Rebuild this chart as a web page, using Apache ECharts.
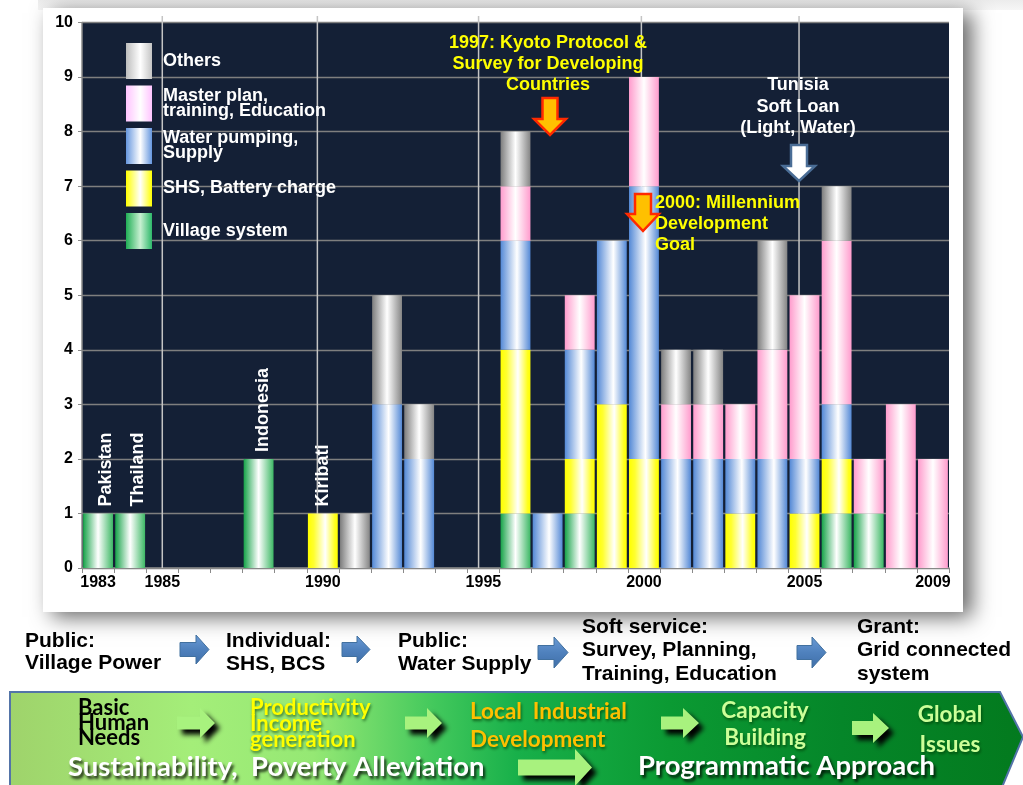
<!DOCTYPE html>
<html><head><meta charset="utf-8">
<script src="https://cdn.jsdelivr.net/npm/echarts@6/dist/echarts.min.js"></script>
<style>html,body{margin:0;padding:0;background:#fff;}#c{width:1023px;height:785px;}</style>
</head><body><div id="c"></div>
<script>
// ---------- data ----------
const years = ['1983','1984','1985','1986','1987','1988','1989','1990','1991','1992','1993','1994','1995','1996','1997','1998','1999','2000','2001','2002','2003','2004','2005','2006','2007','2008','2009'];
const shownYears = ['1983','1985','1990','1995','2000','2005','2009'];
const village = [1,1,0,0,0,2,0,0,0,0,0,0,0,1,0,1,0,0,0,0,0,0,0,1,1,0,0];
const shs     = [0,0,0,0,0,0,0,1,0,0,0,0,0,3,0,1,3,2,0,0,1,0,1,1,0,0,0];
const water   = [0,0,0,0,0,0,0,0,0,3,2,0,0,2,1,2,3,5,2,2,1,2,1,1,0,0,0];
const master  = [0,0,0,0,0,0,0,0,0,0,0,0,0,1,0,1,0,2,1,1,1,2,3,3,1,3,2];
const others  = [0,0,0,0,0,0,0,0,1,2,1,0,0,1,0,0,0,0,1,1,0,2,0,1,0,0,0];
const countries = ['Pakistan','Thailand','','','','Indonesia','','Kiribati','','','','','','','','','','','','','','','','','','',''];
const seriesNames = ['Village system','SHS, Battery charge','Water pumping,\nSupply','Master plan,\ntraining, Education','Others'];
const guideYears = [2.5, 7.33, 12.35, 17.42, 22.33];

// ---------- styles ----------
function grad(stops){return new echarts.graphic.LinearGradient(0,0,1,0,stops.map(s=>({offset:s[0],color:s[1]})));}
const fills = [
  grad([[0,'#17a349'],[0.5,'#ffffff'],[1,'#3db865']]),
  grad([[0,'#ffff00'],[0.2,'#ffff30'],[0.58,'#ffffff'],[0.9,'#ffff20'],[1,'#ffff00']]),
  grad([[0,'#5489d6'],[0.55,'#ffffff'],[1,'#5489d6']]),
  grad([[0,'#ff9ccd'],[0.5,'#ffffff'],[1,'#ff9ccd']]),
  grad([[0,'#7d7d7d'],[0.5,'#ffffff'],[1,'#858585']])
];
const legendFills = [
  grad([[0,'#1fae55'],[0.55,'#c8f0d2'],[1,'#2db86a']]),
  grad([[0,'#ffff00'],[0.55,'#ffffff'],[1,'#ffff00']]),
  grad([[0,'#6596de'],[0.55,'#ffffff'],[1,'#6596de']]),
  grad([[0,'#ffc4ff'],[0.55,'#ffffff'],[1,'#ffc4ff']]),
  grad([[0,'#bdbdbd'],[0.55,'#ffffff'],[1,'#c4c4c4']])
];
const values = [village, shs, water, master, others];
const totals = years.map((_,i)=>values.reduce((s,a)=>s+a[i],0));
const labelShift = {Pakistan:8, Thailand:8, Indonesia:4, Kiribati:0};

const F = '"Liberation Sans", Arial, sans-serif';
const barSeries = values.map((arr,k)=>({
  name: seriesNames[k], type:'bar', stack:'a', data: arr,
  barCategoryGap:'7%', z:3, itemStyle:{color: fills[k]}, silent:true
}));

const countryData = [];
countries.forEach((c,i)=>{ if(c) countryData.push({value:[i, totals[i]], name:c,
  label:{offset:[0,labelShift[c]]}}); });

function arrowR(x0,x1,yT,yB,hx,sh){const yc=(yT+yB)/2;return [[x0,yc-sh],[hx,yc-sh],[hx,yT],[x1,yc],[hx,yB],[hx,yc+sh],[x0,yc+sh]];}
function arrowD(xL,xR,yT,yB,hy,sh){const xc=(xL+xR)/2;return [[xc-sh,yT],[xc+sh,yT],[xc+sh,hy],[xR,hy],[xc,yB],[xL,hy],[xc-sh,hy]];}

const blueArrowFill = new echarts.graphic.LinearGradient(0,0,0,1,[{offset:0,color:'#6b9bd6'},{offset:0.5,color:'#4f81bd'},{offset:1,color:'#3f6ea8'}]);
const blueArrows = [[180,209,635,664,196],[342,370,636,663,357],[538,568,637,668,554],[797,826,637,668,812]].map(a=>({
  type:'polygon', z:100, shape:{points:arrowR(a[0],a[1],a[2],a[3],a[4],7)},
  style:{fill:blueArrowFill, stroke:'#41709f', lineWidth:1}}));
const greenArrows = [[177,215,708,738,200,6.5],[405,442,708,738,427,6.5],[661,699,708,738,683,6.5],[852,889,713,743,873,7],[518,592,749,786,575,8]].map(a=>({
  type:'polygon', z:100, shape:{points:arrowR(a[0],a[1],a[2],a[3],a[4],a[5])},
  style:{fill:'#a8f27e', shadowBlur:5, shadowColor:'rgba(0,0,0,1)', shadowOffsetX:5, shadowOffsetY:5}}));

function txt(text,x,y,o){return {type:'text', z:100, silent:true, style:Object.assign({text:text,x:x,y:y,fill:'#000',
  font:'bold 21px '+F, align:'left', verticalAlign:'middle'},o||{})};}
const CF = 'Lato, "Open Sans", sans-serif';
const sh = {textShadowColor:'rgba(0,0,0,0.8)', textShadowBlur:3, textShadowOffsetX:2, textShadowOffsetY:3};
const gs = {textShadowColor:'rgba(0,50,0,0.65)', textShadowBlur:3, textShadowOffsetX:1, textShadowOffsetY:2};

const graphics = [
  {type:'rect', z:-100, silent:true, shape:{x:38,y:0,width:985,height:10}, style:{fill:new echarts.graphic.LinearGradient(0,0,0,1,[{offset:0,color:'#ececec'},{offset:1,color:'#f6f6f6'}])}},
  {type:'rect', z:-90, silent:true, shape:{x:43,y:8,width:920,height:604}, style:{fill:'#ffffff', shadowBlur:20, shadowColor:'rgba(0,0,0,0.6)', shadowOffsetX:9, shadowOffsetY:5}},
  // annotations
  txt('1997: Kyoto Protocol &\nSurvey for Developing\nCountries',548,64,{fill:'#ffff00',font:'bold 18px '+F,align:'center',lineHeight:21}),
  {type:'polygon', z:100, shape:{points:arrowD(534,566,98,135,119,7.5)}, style:{fill:'#ffc000',stroke:'#ff2a00',lineWidth:2.5}},
  txt('2000: Millennium\nDevelopment\nGoal',655,224,{fill:'#ffff00',font:'bold 18px '+F,lineHeight:21}),
  {type:'polygon', z:100, shape:{points:arrowD(627,659,194,231,214,8)}, style:{fill:'#ffc000',stroke:'#ff2a00',lineWidth:2.5}},
  txt('Tunisia\nSoft Loan\n(Light, Water)',798,107,{fill:'#ffffff',font:'bold 18px '+F,align:'center',lineHeight:21.5}),
  {type:'polygon', z:100, shape:{points:arrowD(783,815,145,181,166,8)}, style:{fill:'#ffffff',stroke:'#4a6d96',lineWidth:2.5}},
  // lower text row
  txt('Public:\nVillage Power',25,652,{lineHeight:22}),
  txt('Individual:\nSHS, BCS',226,653,{lineHeight:23}),
  txt('Public:\nWater Supply',398,653,{lineHeight:23}),
  txt('Soft service:\nSurvey, Planning,\nTraining, Education',582,650.5,{lineHeight:23.5}),
  txt('Grant:\nGrid connected\nsystem',857,650.5,{lineHeight:23.5}),
  ...blueArrows,
  // banner
  {type:'polygon', z:50, silent:true, shape:{points:[[10,692],[1000,692],[1023,737],[1000,792],[10,792]]},
   style:{fill:new echarts.graphic.LinearGradient(0,0,1,0,[
     {offset:0,color:'#9fd36b'},{offset:0.18,color:'#a4ee79'},{offset:0.3,color:'#95e874'},{offset:0.42,color:'#42c85c'},
     {offset:0.5,color:'#18b04a'},{offset:0.65,color:'#0b9a33'},{offset:0.82,color:'#058629'},{offset:1,color:'#037a1e'}]),
     stroke:'#5374a8', lineWidth:2}},
  txt('Basic\nHuman\nNeeds',78,723,{font:'bold 22px '+CF,lineHeight:15,fill:'#000'}),
  txt('Productivity\nIncome\ngeneration',250,724,Object.assign({font:'bold 22px '+CF,lineHeight:16,fill:'#ffff00'},gs)),
  txt('Local  Industrial\nDevelopment',470,726,Object.assign({font:'bold 22.5px '+CF,lineHeight:28,fill:'#ffc000'},gs)),
  txt('Capacity\nBuilding',765,724,Object.assign({font:'bold 22.5px '+CF,lineHeight:27,fill:'#ccff99',align:'center'},gs)),
  txt('Global\nIssues',950,730,Object.assign({font:'bold 22.5px '+CF,lineHeight:30,fill:'#ccff99',align:'center'},gs)),
  txt('Sustainability,  Poverty Alleviation',68,767,Object.assign({font:'bold 27.5px '+CF,fill:'#ffffff'},sh)),
  txt('Programmatic Approach',638,766,Object.assign({font:'bold 27.5px '+CF,fill:'#ffffff'},sh)),
  ...greenArrows
];

const chart = echarts.init(document.getElementById('c'), null, {renderer:'canvas'});
chart.setOption({
  animation:false,
  backgroundColor:'#ffffff',
  grid:{left:82, right:74, top:22.5, bottom:217, show:true, backgroundColor:'#142036', borderWidth:0},
  legend:{
    data:[4,3,2,1,0].map(k=>({name:seriesNames[k], itemStyle:{color:legendFills[k]}})),
    orient:'vertical', left:126, top:43, padding:0, itemWidth:26, itemHeight:36, itemGap:6.5, icon:'rect', selectedMode:false,
    textStyle:{color:'#ffffff', fontSize:18, fontWeight:'bold', fontFamily:F, lineHeight:15, padding:[0,0,0,6]}
  },
  xAxis:[{
    type:'category', data:years, boundaryGap:true,
    axisLine:{lineStyle:{color:'#8a8a8a', width:1.5}},
    axisTick:{show:true, interval:0, alignWithLabel:false, length:5, lineStyle:{color:'#8a8a8a'}},
    axisLabel:{interval:0, margin:7, color:'#000', fontSize:16, fontWeight:'bold', fontFamily:F,
      formatter:v=>shownYears.includes(v)?v:''},
    splitLine:{show:false}
  },{type:'value', min:0, max:27, show:false}],
  yAxis:{
    type:'value', min:0, max:10, interval:1,
    axisLine:{show:true, lineStyle:{color:'#8a8a8a', width:1.5}},
    axisTick:{show:true, length:4, lineStyle:{color:'#8a8a8a'}},
    axisLabel:{margin:9, color:'#000', fontSize:16, fontWeight:'bold', fontFamily:F},
    splitLine:{lineStyle:{color:'#7f7f7f', width:1.3}}
  },
  graphic:graphics,
  series:[
    {type:'custom', xAxisIndex:1, yAxisIndex:0, data:guideYears, z:1, silent:true, clip:false,
     encode:{x:0},
     renderItem:(params, api)=>{
       const x = api.value(0);
       const p0 = api.coord([x, 10.12]), p1 = api.coord([x, 0]);
       return {type:'line', shape:{x1:p0[0], y1:p0[1], x2:p1[0], y2:p1[1]},
         style:{stroke:'#c4c4c4', lineWidth:1.5}};
     }},
    ...barSeries,
    {type:'scatter', data:countryData, symbolSize:0, z:5, silent:true, itemStyle:{opacity:1},
     label:{show:true, formatter:p=>p.name, position:'top', rotate:90, align:'left', verticalAlign:'middle', distance:7,
       color:'#ffffff', opacity:1, fontSize:18, fontWeight:'bold', fontFamily:F}}
  ]
});
</script></body></html>
